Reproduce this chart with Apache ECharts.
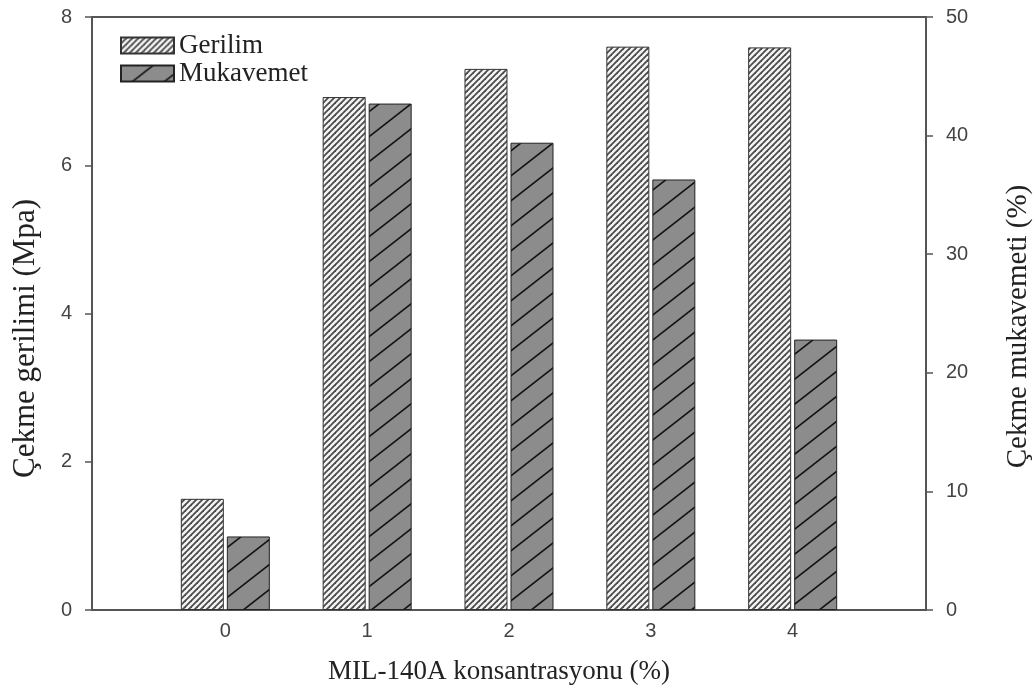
<!DOCTYPE html>
<html>
<head>
<meta charset="utf-8">
<script src="https://cdn.jsdelivr.net/npm/echarts@6/dist/echarts.min.js"></script>
<style>
html,body{margin:0;padding:0;background:#fff;overflow:hidden;}
#chart{width:1034px;height:692px;}
</style>
</head>
<body>
<div id="chart"></div>
<script>
// ---- data ----
var categories = [0, 1, 2, 3, 4];
var gerilim = [1.5, 6.92, 7.30, 7.60, 7.59];      // MPa (left axis)
var mukavemet = [6.2, 42.7, 39.4, 36.3, 22.8];    // % (right axis)
var seriesNames = ['Gerilim', 'Mukavemet'];
var leftTicks = [0, 2, 4, 6, 8];
var rightTicks = [0, 10, 20, 30, 40, 50];

function makePattern(w, h, bg, lineColor, lw) {
  var c = document.createElement('canvas');
  c.width = w; c.height = h;
  var ctx = c.getContext('2d');
  ctx.fillStyle = bg;
  ctx.fillRect(0, 0, w, h);
  ctx.strokeStyle = lineColor;
  ctx.lineWidth = lw;
  for (var k = -1; k <= 1; k++) {
    ctx.beginPath();
    ctx.moveTo(-w, h * (1 + k) + h);
    ctx.lineTo(2 * w, h * (1 + k) - 2 * h);
    ctx.stroke();
  }
  return {image: c, repeat: 'repeat'};
}

var patG = makePattern(6, 6, '#f4f4f4', '#4a4a4a', 1.8);
var patM = makePattern(32, 25, '#8c8c8c', '#111', 1.6);

var chart = echarts.init(document.getElementById('chart'), null, {width: 1034, height: 692});
var serifFont = '"Liberation Serif", "Times New Roman", serif';
var sansFont = '"Liberation Sans", Arial, sans-serif';

var option = {
  animation: false,
  backgroundColor: '#fff',
  grid: {left: 92, right: 108, top: 17, bottom: 82, show: true, borderColor: '#555', borderWidth: 2,
         containLabel: false, outerBoundsMode: 'none'},
  legend: {
    orient: 'vertical', left: 115, top: 27, itemWidth: 53, itemHeight: 16, itemGap: 1,
    icon: 'rect',
    textStyle: {fontFamily: serifFont, fontSize: 27, lineHeight: 20, color: '#222'},
    data: seriesNames
  },
  xAxis: {
    type: 'value', min: -0.94, max: 4.94,
    name: 'MIL-140A konsantrasyonu (%)', nameLocation: 'middle', nameGap: 48,
    nameTextStyle: {fontFamily: serifFont, fontSize: 27, color: '#222', padding: [0, 20, 0, 0]},
    axisLine: {show: true, onZero: false, lineStyle: {color: '#555', width: 2}},
    axisTick: {show: false},
    splitLine: {show: false},
    axisLabel: {
      fontFamily: sansFont, fontSize: 20, color: '#444', margin: 11,
      formatter: function (v) { return categories.indexOf(v) >= 0 ? String(v) : ''; }
    }
  },
  yAxis: [
    {
      type: 'value', min: 0, max: 8, interval: 2, position: 'left',
      name: 'Çekme gerilimi (Mpa)', nameLocation: 'middle', nameGap: 51, nameRotate: 90,
      nameTextStyle: {fontFamily: serifFont, fontSize: 31, color: '#222', padding: [0, 0, 0, -50]},
      axisLine: {show: true, onZero: false, lineStyle: {color: '#555', width: 2}},
      axisTick: {show: true, inside: false, length: 7, lineStyle: {color: '#555', width: 1.5}},
      splitLine: {show: false},
      axisLabel: {fontFamily: sansFont, fontSize: 20, color: '#444', margin: 20,
        formatter: function (v) { return leftTicks.indexOf(v) >= 0 ? String(v) : ''; }}
    },
    {
      type: 'value', min: 0, max: 50, interval: 10, position: 'right',
      name: 'Çekme mukavemeti (%)', nameLocation: 'middle', nameGap: 78, nameRotate: 90,
      nameTextStyle: {fontFamily: serifFont, fontSize: 29, color: '#222', padding: [0, 0, 0, -26]},
      axisLine: {show: true, onZero: false, lineStyle: {color: '#555', width: 2}},
      axisTick: {show: true, inside: false, length: 7, lineStyle: {color: '#555', width: 1.5}},
      splitLine: {show: false},
      axisLabel: {fontFamily: sansFont, fontSize: 20, color: '#444', margin: 20,
        formatter: function (v) { return rightTicks.indexOf(v) >= 0 ? String(v) : ''; }}
    }
  ],
  series: [
    {
      name: seriesNames[0], type: 'bar', yAxisIndex: 0,
      barWidth: 43, barGap: '7%',
      itemStyle: {color: patG, borderColor: '#333', borderWidth: 1},
      data: categories.map(function (c, i) { return [c, gerilim[i]]; })
    },
    {
      name: seriesNames[1], type: 'bar', yAxisIndex: 1,
      barWidth: 43, barGap: '7%',
      itemStyle: {color: patM, borderColor: '#222', borderWidth: 1},
      data: categories.map(function (c, i) { return [c, mukavemet[i]]; })
    }
  ]
};
chart.setOption(option);
</script>
</body>
</html>
